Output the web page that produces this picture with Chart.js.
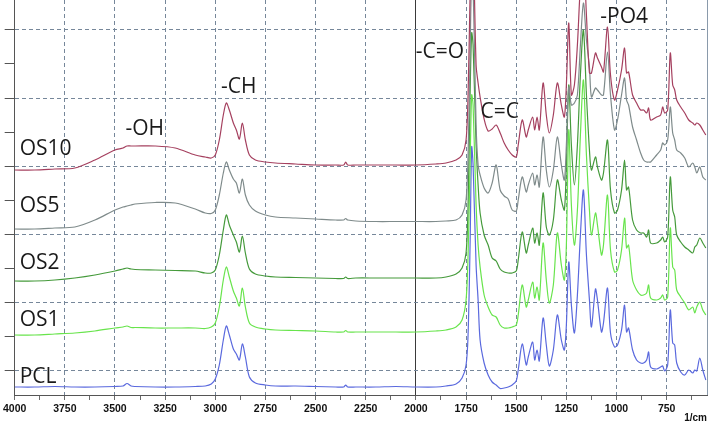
<!DOCTYPE html>
<html><head><meta charset="utf-8">
<script src="https://cdn.jsdelivr.net/npm/chart.js@4/dist/chart.umd.min.js"></script>
<style>html,body{margin:0;padding:0;background:#fff;}#wrap{width:710px;height:423px;}</style>
</head><body><div id="wrap"><canvas id="c" width="710" height="423"></canvas></div>
<script>
// Wavenumbers (1/cm), shared by all traces
const wavenumbers = [
 4000,3900,3800,3700,3600,3500,3460,3440,3420,3400,
 3300,3200,3100,3050,3020,3000,2980,2960,2945,2930,
 2910,2895,2880,2865,2850,2830,2800,2750,2700,2600,
 2500,2400,2360,2350,2340,2300,2200,2100,2000,1900,
 1850,1800,1770,1750,1740,1730,1722,1715,1700,1690,
 1680,1660,1640,1620,1600,1580,1560,1540,1520,1500,
 1490,1470,1450,1440,1418,1408,1396,1385,1366,1350,
 1335,1315,1295,1275,1260,1250,1238,1225,1210,1195,
 1180,1165,1150,1135,1125,1105,1095,1075,1065,1045,
 1030,1010,995,975,960,950,940,920,900,880,
 865,850,840,830,800,780,770,760,745,732,
 720,710,700,680,660,640,620,610,600,585,
 570,555];

// Stacked (offset) intensities, arbitrary units
const pcl = [
 8,8,8.5,8,8,8.5,9,11.5,9,8.5,
 8,8,8.5,9,11,16,30,55,69,60,
 46,41,35,51,38,18,12,10,9,9,
 8.5,8,8,10,8,8,8,8.5,8,8,
 9,11,17,30,60,150,248,230,130,95,
 55,32,20,13,10,6.5,7,8,10,14,
 25,51,30,38,53,35,45,34,77,50,
 29,45,80,55,45,70,133,90,62,100,
 160,205,140,95,68,106,95,63,72,107,
 62,48,50,65,90,63,67,45,35,32,
 32,35,43,28,26,28,29,24,30,85,
 52,50,32,23,20,25,22,25,24,37,
 25,15];
const os1 = [
 60,60,61,62,64,67,68,69,67.5,67.5,
 67,67,67,66.5,68,72,88,115,128,118,
 104,97,89,107,88,72,68,66,65,64.5,
 64,63,63,64.5,63,63,63,63,63,64,
 65,68,75,95,140,230,300,290,190,150,
 128,100,88,80,78,70,67,67,68,70,
 80,110,88,95,113,97,108,95,152,115,
 92,110,162,130,115,150,265,190,150,185,
 260,315,240,185,160,182,170,140,150,200,
 145,123,125,145,177,147,150,115,105,100,
 100,102,110,97,95,97,100,95,98,167,
 128,125,105,98,92,85,88,82,88,93,
 85,80];
const os2 = [
 114,114,115,117,120,124,126,127,126,125.5,
 125,124.5,124,122,122,125,140,165,180,170,
 160,153,143,159,142,126,121,119,118,117.5,
 117,116.5,116.5,118,116.5,117,117,117,117,117,
 118,121,127,142,190,300,362,350,250,210,
 182,160,150,137,134,126,123,122,122,124,
 135,163,142,150,167,152,162,150,202,168,
 160,175,215,195,185,230,310,250,210,250,
 320,365,300,245,225,238,228,215,222,255,
 205,182,185,205,235,205,208,175,165,162,
 162,158,165,152,152,155,158,153,158,218,
 185,178,160,153,148,145,142,148,150,157,
 152,147];
const os5 = [
 166,166,167,168,175,185,188,189,190,191,
 192.5,192,186,182,181.5,185,200,222,233,225,
 216,212,202,216,200,190,184,180,178,177,
 176,175,175,176.5,175,174,173.5,173.5,173.5,173.5,
 174,175,180,195,240,340,420,410,270,230,
 220,207,202,212,230,205,199,196,185,184,
 195,218,203,210,222,210,220,208,258,225,
 208,225,258,230,215,250,308,290,292,300,
 350,392,355,328,298,307,305,300,300,343,
 300,265,275,300,317,295,290,268,255,242,
 235,233,233,233,240,245,252,250,255,288,
 262,255,245,242,237,228,232,228,222,228,
 218,215];
const os10 = [
 225,225,226,227,235,245,247,249,249,249,
 249,247,240,238,237,240,255,280,292,285,
 272,265,256,272,255,240,235,233,232,231,
 230,230,230,233,230,230,230,230,230,231,
 232,235,240,255,300,400,470,460,330,312,
 298,276,264,266,270,262,252,245,240,238,
 250,275,258,265,278,265,278,265,312,280,
 262,280,312,290,278,310,372,300,310,350,
 410,440,380,322,322,342,337,328,323,368,
 320,295,305,325,347,322,323,300,292,285,
 285,282,287,275,278,280,288,282,285,342,
 310,305,295,288,282,275,272,270,272,270,
 265,260];

const seriesNames = ['OS10','OS5','OS2','OS1','PCL'];
const seriesData = [os10, os5, os2, os1, pcl];
const seriesColors = ['#a5405f','#7f8b8b','#459a3b','#68e44c','#5a69de'];
const xTickValues = [4000,3875,3750,3625,3500,3375,3250,3125,3000,2875,2750,2625,2500,2375,2250,2125,2000,1875,1750,1625,1500,1375,1250,1125,1000,875,750,625];
const yTickValues = [25,59,93,127,161,195,229,263,297,331,365];
const bandLabels = ['-OH','-CH','-C=O','C=C','-PO4'];
const bandLabelX = [3448,2971,2001,1678,1081];
const bandLabelY = [260,302,337,277,372];
const seriesLabelX = 3975;
const seriesLabelY = [240,183,126,69,12];

const gridColor = '#76879a';
const clear = 'rgba(0,0,0,0)';

const overlay = {
  id: 'overlay',
  afterDraw(chart) {
    const {ctx, chartArea, scales} = chart;
    ctx.save();
    ctx.strokeStyle = '#8a9aab';
    ctx.lineWidth = 1;
    ctx.beginPath();
    ctx.moveTo(chartArea.right + 0.5, chartArea.top);
    ctx.lineTo(chartArea.right + 0.5, chartArea.bottom);
    ctx.stroke();
    ctx.fillStyle = '#1a1a1a';
    ctx.font = '21px "Open Sans"';
    ctx.textAlign = 'left';
    ctx.textBaseline = 'alphabetic';
    seriesNames.forEach((n, i) => {
      ctx.fillText(n, scales.x.getPixelForValue(seriesLabelX), scales.y.getPixelForValue(seriesLabelY[i]));
    });
    bandLabels.forEach((n, i) => {
      ctx.fillText(n, scales.x.getPixelForValue(bandLabelX[i]), scales.y.getPixelForValue(bandLabelY[i]));
    });
    ctx.font = 'bold 10px "Liberation Sans Narrow", "Liberation Sans"';
    ctx.textAlign = 'right';
    ctx.fillStyle = '#111';
    ctx.fillText('1/cm', chartArea.right, 421);
    ctx.restore();
  }
};

new Chart(document.getElementById('c'), {
  type: 'line',
  data: {
    datasets: seriesNames.map((n, i) => ({
      label: n,
      data: wavenumbers.map((w, j) => ({x: w, y: seriesData[i][j]})),
      borderColor: seriesColors[i],
      borderWidth: 1.2,
      pointRadius: 0,
      tension: 0.3,
      fill: false
    }))
  },
  options: {
    responsive: false,
    animation: false,
    devicePixelRatio: 1,
    layout: {padding: {top: 0, right: 3, bottom: 0, left: 0}},
    plugins: {legend: {display: false}, tooltip: {enabled: false}},
    scales: {
      x: {
        type: 'linear', reverse: true, min: 549, max: 4000,
        afterBuildTicks: s => { s.ticks = xTickValues.map(v => ({value: v})); },
        afterFit: s => { s.height = 28; },
        ticks: {
          autoSkip: false, maxRotation: 0, padding: 3, color: '#111',
          font: {family: '"Liberation Sans Narrow", "Liberation Sans"', size: 10.5, weight: 'bold'},
          callback: v => (v % 250 === 0 ? String(v) : '')
        },
        grid: {
          color: c => {
            const v = c.tick && c.tick.value;
            if (v === 4000) return clear;
            if (v === 2000) return '#3a3a3a';
            return v % 250 === 0 ? gridColor : clear;
          },
          lineWidth: 1, tickColor: '#6a6a6a', tickLength: 5
        },
        border: {color: '#555', width: 1, dash: c => (c.tick && c.tick.value === 2000) ? [] : [4, 3]}
      },
      y: {
        min: 0, max: 395,
        afterBuildTicks: s => { s.ticks = yTickValues.map(v => ({value: v})); },
        afterFit: s => { s.width = 13; },
        ticks: {display: false},
        grid: {
          color: c => (c.index % 2 === 0 ? gridColor : clear),
          lineWidth: 1, tickColor: '#555', tickLength: 10
        },
        border: {color: '#555', width: 1, dash: [4, 3]}
      }
    }
  },
  plugins: [overlay]
});
</script>
</body></html>
